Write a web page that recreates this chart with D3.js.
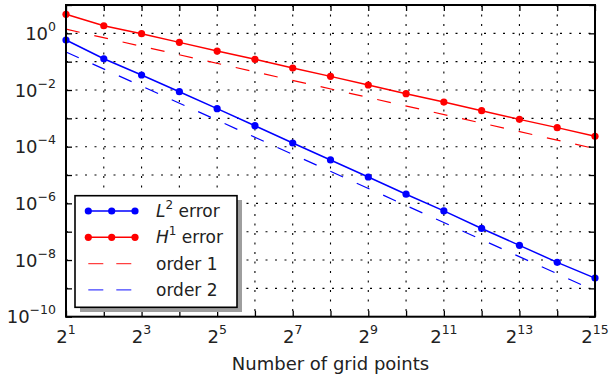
<html lang="en">
<head>
<meta charset="utf-8">
<title>error convergence</title>
<style>
  body { margin: 0; background: #fff; }
  text { font-family: "DejaVu Sans", sans-serif; fill: #222; }
</style>
<script src="https://cdn.jsdelivr.net/npm/d3@7"></script>
</head>
<body>
<svg id="chart" width="610" height="375"></svg>
<script>
// grid sizes (x) and the measured errors
var gridPoints = [2, 4, 8, 16, 32, 64, 128, 256, 512, 1024, 2048, 4096, 8192, 16384, 32768];
var l2Error = [0.58, 0.127, 0.0338, 0.0087, 0.0022, 0.00055, 1.35e-4, 3.4e-5, 8.5e-6, 2.1e-6,
               5.4e-7, 1.3e-7, 3.3e-8, 8.3e-9, 2.3e-9];
var h1Error = [4.7, 1.85, 0.97, 0.48, 0.237, 0.121, 0.0597, 0.0303, 0.0150, 0.0074,
               0.00375, 0.00186, 0.00092, 0.00047, 0.000232];
// reference slopes, only end points needed
var refPoints = [2, 32768];
var orderOne = [1.4, 8.5e-5];
var orderTwo = [0.22, 8.2e-10];

// axis ticks
var xTickExps = [1, 2, 3, 4, 5, 6, 7, 8, 9, 10, 11, 12, 13, 14, 15];
var xLabelExps = [1, 3, 5, 7, 9, 11, 13, 15];
var yTickExps = [-10, -9, -8, -7, -6, -5, -4, -3, -2, -1, 0, 1];
var yLabelExps = [-10, -8, -6, -4, -2, 0];

var margin = {left: 66, right: 15, top: 5, bottom: 58.3};
var W = 610, H = 375;
var svg = d3.select("#chart");

var x = d3.scaleLog().base(2).domain([2, 32768]).range([margin.left, W - margin.right]);
var y = d3.scaleLog().domain([1e-10, 10]).range([H - margin.bottom, margin.top]);

var xTicks = xTickExps.map(function(e) { return Math.pow(2, e); });
var yTicks = yTickExps.map(function(e) { return Math.pow(10, e); });

// dotted grid
var grid = svg.append("g").attr("class", "grid");
grid.selectAll(".vg").data(xTicks.slice(1, -1)).enter().append("line")
  .attr("x1", function(d) { return x(d); }).attr("x2", function(d) { return x(d); })
  .attr("y1", y.range()[1]).attr("y2", y.range()[0]);
grid.selectAll(".hg").data(yTicks.slice(1, -1)).enter().append("line")
  .attr("y1", function(d) { return y(d); }).attr("y2", function(d) { return y(d); })
  .attr("x1", x.range()[0]).attr("x2", x.range()[1]);
grid.selectAll("line")
  .style("stroke", "#000").style("stroke-width", 1.1).style("stroke-dasharray", "2,7.5");

// inward ticks on all four sides
function styleAxis(g) {
  g.select(".domain").remove();
  g.selectAll(".tick line").style("stroke", "#000").style("stroke-width", 1.3);
  g.selectAll(".tick text").remove();
}
svg.append("g").attr("transform", "translate(0," + y.range()[0] + ")")
  .call(d3.axisBottom(x).tickValues(xTicks).tickSize(-6)).call(styleAxis);
svg.append("g").attr("transform", "translate(0," + y.range()[1] + ")")
  .call(d3.axisTop(x).tickValues(xTicks).tickSize(-6)).call(styleAxis);
svg.append("g").attr("transform", "translate(" + x.range()[0] + ",0)")
  .call(d3.axisLeft(y).tickValues(yTicks).tickSize(-6)).call(styleAxis);
svg.append("g").attr("transform", "translate(" + x.range()[1] + ",0)")
  .call(d3.axisRight(y).tickValues(yTicks).tickSize(-6)).call(styleAxis);

// tick labels with superscripts
var xl = svg.append("g").selectAll("text").data(xLabelExps).enter().append("text")
  .attr("x", function(e) { return x(Math.pow(2, e)); })
  .attr("y", 343.3)
  .attr("text-anchor", "middle")
  .style("font-size", "18px");
xl.append("tspan").text("2");
xl.append("tspan").attr("dy", -9).style("font-size", "12.5px").text(function(e) { return e; });

var yl = svg.append("g").selectAll("text").data(yLabelExps).enter().append("text")
  .attr("x", 56)
  .attr("y", function(e) { return y(Math.pow(10, e)) + 6.7; })
  .attr("text-anchor", "end")
  .style("font-size", "18px");
yl.append("tspan").text("10");
yl.append("tspan").attr("dy", -9).style("font-size", "12.5px")
  .text(function(e) { return e < 0 ? "\u2212" + (-e) : e; });

svg.append("text")
  .attr("x", (x.range()[0] + x.range()[1]) / 2)
  .attr("y", 370)
  .attr("text-anchor", "middle")
  .style("font-size", "18px")
  .text("Number of grid points");

// series
var line = d3.line()
  .x(function(d) { return x(d[0]); })
  .y(function(d) { return y(d[1]); });

function zipped(xs, ys) { return xs.map(function(v, i) { return [v, ys[i]]; }); }

svg.append("path").datum(zipped(refPoints, orderOne)).attr("d", line)
  .style("fill", "none").style("stroke", "#ff0000").style("stroke-width", 1.2)
  .style("stroke-dasharray", "14,15");
svg.append("path").datum(zipped(refPoints, orderTwo)).attr("d", line)
  .style("fill", "none").style("stroke", "#0000ff").style("stroke-width", 1.2)
  .style("stroke-dasharray", "14,15");

var series = [
  {vals: l2Error, color: "#0000ff"},
  {vals: h1Error, color: "#ff0000"}
];
series.forEach(function(s) {
  var pts = zipped(gridPoints, s.vals);
  svg.append("path").datum(pts).attr("d", line)
    .style("fill", "none").style("stroke", s.color).style("stroke-width", 1.5);
  svg.append("g").selectAll("circle").data(pts).enter().append("circle")
    .attr("cx", function(d) { return x(d[0]); })
    .attr("cy", function(d) { return y(d[1]); })
    .attr("r", 3.6)
    .style("fill", s.color);
});

// frame
svg.append("rect")
  .attr("x", x.range()[0]).attr("y", y.range()[1])
  .attr("width", x.range()[1] - x.range()[0])
  .attr("height", y.range()[0] - y.range()[1])
  .style("fill", "none").style("stroke", "#000").style("stroke-width", 2);

// legend
var leg = svg.append("g");
leg.append("rect").attr("x", 80).attr("y", 200).attr("width", 162).attr("height", 112)
  .style("fill", "#9e9e9e");
leg.append("rect").attr("x", 75).attr("y", 195.7).attr("width", 162).attr("height", 111.6)
  .style("fill", "#fff").style("stroke", "#000").style("stroke-width", 1.6);

var legendRows = [
  {base: "L", sup: "2", rest: " error", color: "#0000ff", dash: null},
  {base: "H", sup: "1", rest: " error", color: "#ff0000", dash: null},
  {text: "order 1", color: "#ff0000", dash: "15,13"},
  {text: "order 2", color: "#0000ff", dash: "15,13"}
];
legendRows.forEach(function(r, i) {
  var ly = 211 + i * 26.3;
  var g = leg.append("g");
  g.append("line").attr("x1", 88.3).attr("x2", 135).attr("y1", ly).attr("y2", ly)
    .style("stroke", r.color)
    .style("stroke-width", r.dash ? 1.2 : 1.5)
    .style("stroke-opacity", r.dash ? 0.75 : 1)
    .style("stroke-dasharray", r.dash);
  if (!r.dash) {
    [88.3, 111.7, 135].forEach(function(cx) {
      g.append("circle").attr("cx", cx).attr("cy", ly).attr("r", 3.6).style("fill", r.color);
    });
  }
  var t = g.append("text").attr("x", 156).attr("y", ly + 6).style("font-size", "17px");
  if (r.base) {
    t.append("tspan").style("font-style", "italic").text(r.base);
    t.append("tspan").attr("dy", -8).style("font-size", "12px").text(r.sup);
    t.append("tspan").attr("dy", 8).text(r.rest);
  } else {
    t.text(r.text);
  }
});
</script>
</body>
</html>
